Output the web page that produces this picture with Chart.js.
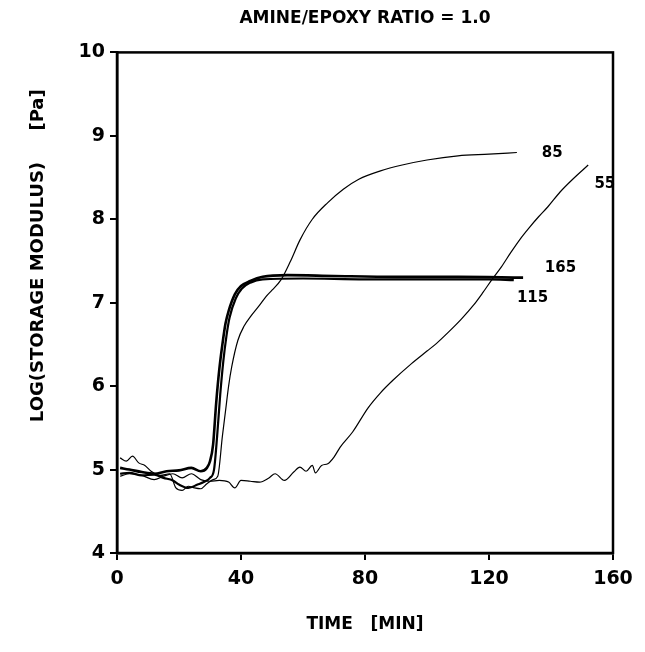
<!DOCTYPE html>
<html>
<head>
<meta charset="utf-8">
<script src="https://cdn.jsdelivr.net/npm/chart.js@4.4.0/dist/chart.umd.min.js"></script>
<style>
  html, body { margin: 0; padding: 0; background: #fff; }
  canvas { display: block; }
</style>
</head>
<body>
<canvas id="myChart" width="645" height="652"></canvas>
<script>
// time (min) and log(storage modulus) for each cure temperature
let t165 = [1, 4, 8, 12, 16, 20, 24, 27, 29, 30, 31, 32, 33, 34, 35, 36, 38, 40, 43, 47, 55, 70, 90, 110, 131];
let g165 = [5.02, 5.0, 4.97, 4.95, 4.98, 4.99, 5.02, 4.98, 5.02, 5.1, 5.3, 5.8, 6.2, 6.5, 6.75, 6.9, 7.1, 7.2, 7.26, 7.31, 7.33, 7.32, 7.31, 7.31, 7.3];

let t115 = [1, 4, 8, 12, 15, 18, 20, 23, 26, 28, 30, 31.3, 32.3, 33.3, 34.3, 35.3, 36.3, 38.3, 40.3, 43, 47, 60, 80, 100, 120, 128];
let g115 = [4.95, 4.96, 4.93, 4.94, 4.9, 4.87, 4.82, 4.78, 4.82, 4.85, 4.9, 5.0, 5.4, 5.9, 6.3, 6.6, 6.82, 7.05, 7.17, 7.24, 7.28, 7.29, 7.28, 7.28, 7.28, 7.27];

let t85 = [1, 3, 5, 7, 9, 11, 14, 17, 19, 21, 23, 25, 27, 29, 31, 32.5, 34, 35, 36, 37, 39, 41, 43, 46, 48, 50, 53, 56, 59, 63, 68, 73, 78, 85, 92, 100, 110, 120, 129];
let g85 = [5.14, 5.1, 5.16, 5.08, 5.05, 4.98, 4.93, 4.95, 4.78, 4.75, 4.8, 4.78, 4.77, 4.83, 4.88, 4.92, 5.4, 5.7, 6.0, 6.23, 6.55, 6.72, 6.83, 6.97, 7.07, 7.15, 7.28, 7.5, 7.75, 8.0, 8.2, 8.36, 8.48, 8.58, 8.65, 8.71, 8.76, 8.78, 8.8];

let t55 = [1, 4, 8, 12, 15, 18, 21, 24, 27, 30, 33, 36, 38, 40, 43, 46, 49, 51, 54, 57, 59, 61, 63, 64, 66, 68, 70, 72, 76, 81, 85, 89, 95, 100, 103, 107, 111, 115, 118, 121, 124, 127, 130, 133, 136, 139, 143, 147, 152];
let g55 = [4.92, 4.95, 4.93, 4.88, 4.92, 4.95, 4.9, 4.95, 4.88, 4.86, 4.87, 4.85, 4.78, 4.87, 4.86, 4.85, 4.9, 4.95, 4.87, 4.97, 5.03, 4.98, 5.05, 4.96, 5.05, 5.07, 5.15, 5.27, 5.45, 5.74, 5.92, 6.07, 6.27, 6.42, 6.51, 6.65, 6.8, 6.97, 7.12, 7.28, 7.43, 7.6, 7.76, 7.9, 8.03, 8.15, 8.33, 8.48, 8.65];

// curve labels, placed in data units
let curveLabels = ['85', '55', '165', '115'];
let labelTimes = [137, 154, 138, 129];
let labelMods = [8.79, 8.42, 7.42, 7.05];

let xTicks = [0, 40, 80, 120, 160];

function pts(xs, ys) {
    return xs.map((x, i) => ({ x: x, y: ys[i] }));
}

function series(label, xs, ys, width) {
    return {
        label: label,
        data: pts(xs, ys),
        borderColor: '#000',
        borderWidth: width,
        pointRadius: 0,
        fill: false,
        cubicInterpolationMode: 'monotone'
    };
}

const FONT = '"DejaVu Sans", sans-serif';

// frame around the plot + curve labels
const extras = {
    id: 'extras',
    afterDraw(chart) {
        const c = chart.ctx, a = chart.chartArea;
        const xs = chart.scales.x, ys = chart.scales.y;
        c.save();
        c.strokeStyle = '#000';
        c.lineWidth = 2.5;
        c.strokeRect(a.left, a.top, a.right - a.left, a.bottom - a.top);
        c.fillStyle = '#000';
        c.font = 'bold 15px ' + FONT;
        c.textAlign = 'left';
        c.textBaseline = 'middle';
        curveLabels.forEach((s, i) => {
            c.fillText(s, xs.getPixelForValue(labelTimes[i]), ys.getPixelForValue(labelMods[i]));
        });
        c.restore();
    }
};

let ctx = document.getElementById('myChart').getContext('2d');
let chart = new Chart(ctx, {
    type: 'line',
    data: {
        datasets: [
            series('165', t165, g165, 2.6),
            series('115', t115, g115, 2.2),
            series('85', t85, g85, 1.2),
            series('55', t55, g55, 1.2)
        ]
    },
    options: {
        responsive: false,
        animation: false,
        layout: { padding: { left: 0, right: 32, top: 0, bottom: 0 } },
        plugins: {
            legend: { display: false },
            tooltip: { enabled: false },
            title: {
                display: true,
                text: 'AMINE/EPOXY RATIO = 1.0',
                fullSize: false,
                color: '#000',
                font: { family: FONT, size: 17, weight: 'bold', lineHeight: 1.2 },
                padding: { top: 8, bottom: 24 }
            }
        },
        scales: {
            x: {
                type: 'linear',
                min: 0,
                max: 160,
                afterFit(s) { s.height = 99; },
                afterBuildTicks(s) { s.ticks = xTicks.map(v => ({ value: v })); },
                grid: { drawOnChartArea: false, drawTicks: true, tickLength: 7, color: '#000', lineWidth: 2 },
                border: { color: '#000', width: 2.5 },
                ticks: { color: '#000', padding: 8, maxRotation: 0, font: { family: FONT, size: 19, weight: 'bold' } },
                title: {
                    display: true,
                    text: 'TIME   [MIN]',
                    color: '#000',
                    font: { family: FONT, size: 17, weight: 'bold', lineHeight: 1.2 },
                    padding: { top: 0, bottom: 17 }
                }
            },
            y: {
                min: 4,
                max: 10,
                afterFit(s) { s.width = 117; },
                grid: { drawOnChartArea: false, drawTicks: true, tickLength: 7, color: '#000', lineWidth: 2 },
                border: { color: '#000', width: 2.5 },
                ticks: { stepSize: 1, color: '#000', padding: 5, font: { family: FONT, size: 19, weight: 'bold' } },
                title: {
                    display: true,
                    text: '               LOG(STORAGE MODULUS)     [Pa]',
                    color: '#000',
                    font: { family: FONT, size: 18, weight: 'bold', lineHeight: 1.2 },
                    padding: { top: 28, bottom: 0 }
                }
            }
        }
    },
    plugins: [extras]
});
</script>
</body>
</html>
